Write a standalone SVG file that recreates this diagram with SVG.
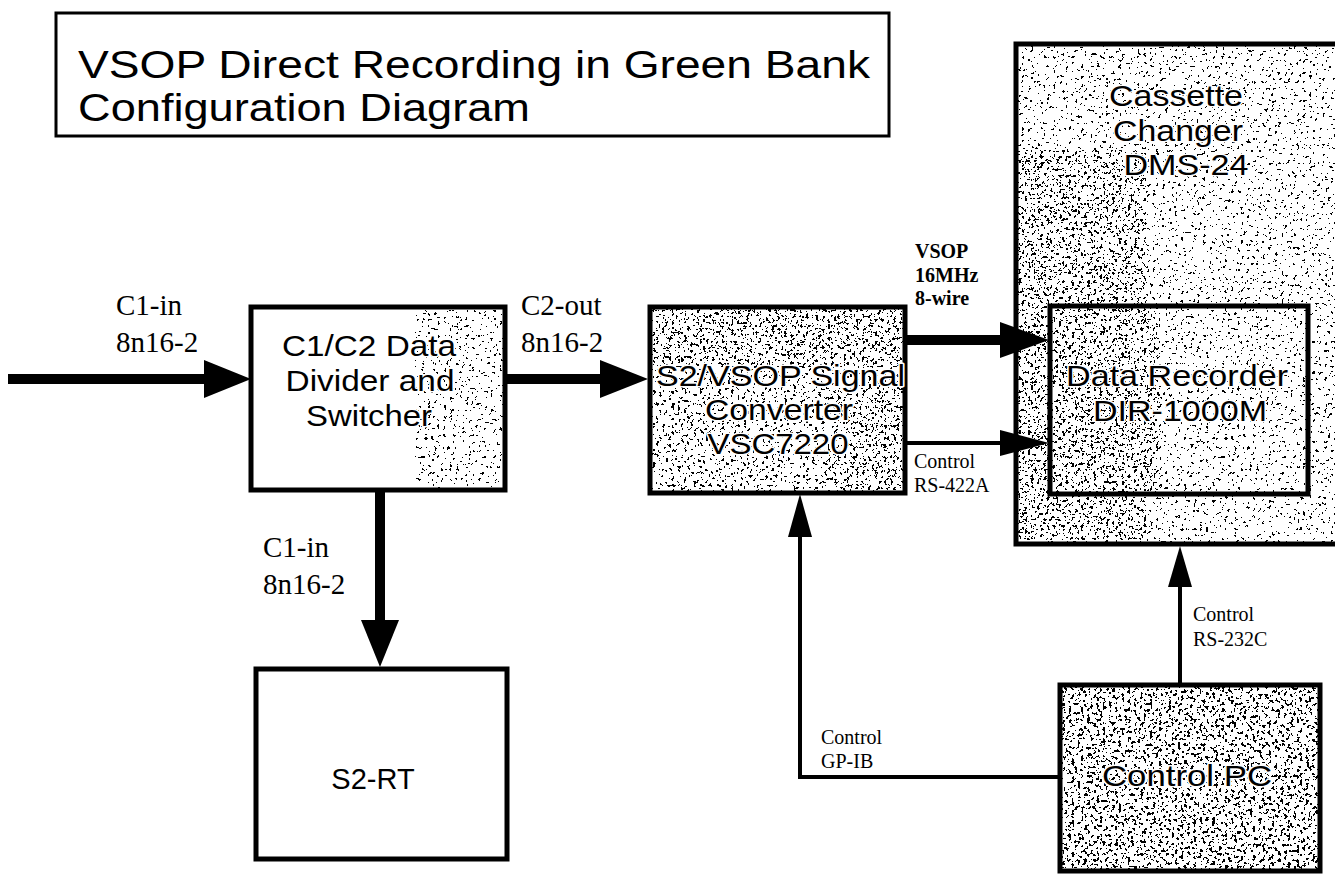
<svg xmlns="http://www.w3.org/2000/svg" width="1335" height="874" viewBox="0 0 1335 874">
<style>
.box{fill:none;stroke:#000;stroke-width:5}
.bg{fill:#fff}
.sans{font-family:"Liberation Sans",Arial,sans-serif;fill:#000}
.node{font-size:30px;text-anchor:middle}
.halo{paint-order:stroke;stroke:#fff;stroke-width:3px;stroke-linejoin:round}
.lbl{font-family:"Liberation Serif","Times New Roman",serif;font-size:29px;fill:#000}
.sm{font-family:"Liberation Serif","Times New Roman",serif;font-size:20px;fill:#000}
.thick{stroke:#000;stroke-width:10;fill:none}
.thin{stroke:#000;stroke-width:4;fill:none}
.head{fill:#000}
</style>
<defs>
<filter id="speckH" x="0" y="0" width="100%" height="100%" filterUnits="objectBoundingBox">
<feTurbulence type="fractalNoise" baseFrequency="0.32" numOctaves="2" seed="4" result="n"/>
<feColorMatrix in="n" type="matrix" values="0 0 0 0 0  0 0 0 0 0  0 0 0 0 0  1 0 0 0 0"/>
<feComponentTransfer><feFuncA type="discrete" tableValues="0 0 0 0 0 0 0 0 0 0 0 0 0 0 0 1 1 1 1 1 1 1 1 1 1"/></feComponentTransfer>
</filter>
<filter id="speckM" x="0" y="0" width="100%" height="100%" filterUnits="objectBoundingBox">
<feTurbulence type="fractalNoise" baseFrequency="0.32" numOctaves="2" seed="9" result="n"/>
<feColorMatrix in="n" type="matrix" values="0 0 0 0 0  0 0 0 0 0  0 0 0 0 0  1 0 0 0 0"/>
<feComponentTransfer><feFuncA type="discrete" tableValues="0 0 0 0 0 0 0 0 0 0 0 0 0 0 0 0 1 1 1 1 1 1 1 1 1"/></feComponentTransfer>
</filter>
<filter id="speckL" x="0" y="0" width="100%" height="100%" filterUnits="objectBoundingBox">
<feTurbulence type="fractalNoise" baseFrequency="0.32" numOctaves="2" seed="2" result="n"/>
<feColorMatrix in="n" type="matrix" values="0 0 0 0 0  0 0 0 0 0  0 0 0 0 0  1 0 0 0 0"/>
<feComponentTransfer><feFuncA type="discrete" tableValues="0 0 0 0 0 0 0 0 0 0 0 0 0 0 0 0 0 1 1 1 1 1 1 1 1"/></feComponentTransfer>
</filter>
</defs>

<g id="title">
<rect x="56" y="13" width="833" height="123" fill="#fff" stroke="#000" stroke-width="3"/>
<text class="sans" font-size="38" x="78" y="78" textLength="792" lengthAdjust="spacingAndGlyphs">VSOP Direct Recording in Green Bank</text>
<text class="sans" font-size="38" x="78" y="121" textLength="452" lengthAdjust="spacingAndGlyphs">Configuration Diagram</text>
</g>

<g id="cassette-changer">
<rect class="bg" x="1016" y="44" width="330" height="500"/>
<rect x="1016" y="44" width="330" height="500" fill="#000" filter="url(#speckL)"/>
<rect x="1016" y="150" width="130" height="390" fill="#000" filter="url(#speckM)"/>
<rect x="1016" y="44" width="110" height="140" fill="#000" filter="url(#speckL)"/>
<rect class="box" x="1016" y="44" width="330" height="500"/>
<text class="sans node halo" x="1176" y="106" textLength="134" lengthAdjust="spacingAndGlyphs">Cassette</text>
<text class="sans node halo" x="1178" y="141" textLength="130" lengthAdjust="spacingAndGlyphs">Changer</text>
<text class="sans node halo" x="1186" y="175" textLength="125" lengthAdjust="spacingAndGlyphs">DMS-24</text>
</g>

<g id="data-recorder">
<rect class="bg" x="1050" y="306" width="258" height="188"/>
<rect x="1050" y="306" width="258" height="188" fill="#000" filter="url(#speckL)"/>
<rect x="1050" y="306" width="110" height="188" fill="#000" filter="url(#speckM)"/>
<rect class="box" x="1050" y="306" width="258" height="188"/>
<text class="sans node halo" x="1177" y="386" textLength="222" lengthAdjust="spacingAndGlyphs">Data Recorder</text>
<text class="sans node halo" x="1180" y="421" textLength="174" lengthAdjust="spacingAndGlyphs">DIR-1000M</text>
</g>

<g id="divider">
<rect class="bg" x="251" y="307" width="254" height="183"/>
<rect x="415" y="310" width="88" height="178" fill="#000" filter="url(#speckL)"/>
<rect class="box" x="251" y="307" width="254" height="183"/>
<text class="sans node halo" x="369" y="356" textLength="174" lengthAdjust="spacingAndGlyphs">C1/C2 Data</text>
<text class="sans node halo" x="370" y="391" textLength="169" lengthAdjust="spacingAndGlyphs">Divider and</text>
<text class="sans node halo" x="369" y="426" textLength="126" lengthAdjust="spacingAndGlyphs">Switcher</text>
</g>

<g id="converter">
<rect class="bg" x="650" y="307" width="255" height="186"/>
<rect x="650" y="307" width="255" height="186" fill="#000" filter="url(#speckM)"/>
<rect x="650" y="307" width="255" height="60" fill="#000" filter="url(#speckL)"/>
<rect x="830" y="380" width="75" height="110" fill="#000" filter="url(#speckL)"/>
<rect class="box" x="650" y="307" width="255" height="186"/>
<text class="sans halo" font-size="30" x="656" y="386" textLength="249" lengthAdjust="spacingAndGlyphs">S2/VSOP Signal</text>
<text class="sans node halo" x="779" y="420" textLength="148" lengthAdjust="spacingAndGlyphs">Converter</text>
<text class="sans node halo" x="778" y="454" textLength="141" lengthAdjust="spacingAndGlyphs">VSC7220</text>
</g>

<g id="s2rt">
<rect class="box" x="256" y="669" width="251" height="190" fill="#fff"/>
<text class="sans" x="373" y="789" font-size="29" text-anchor="middle">S2-RT</text>
</g>

<g id="control-pc">
<rect class="bg" x="1060" y="685" width="260" height="186"/>
<rect x="1060" y="685" width="260" height="186" fill="#000" filter="url(#speckH)"/>
<rect class="box" x="1060" y="685" width="260" height="186"/>
<text class="sans node halo" font-size="32" x="1187" y="786" textLength="170" lengthAdjust="spacingAndGlyphs">Control PC</text>
</g>

<g id="connectors">
<line class="thick" x1="8" y1="379" x2="210" y2="379"/>
<polygon class="head" points="204,360 251,379 204,398"/>
<line class="thick" x1="505" y1="379" x2="605" y2="379"/>
<polygon class="head" points="600,360 648,379 600,398"/>
<line class="thick" x1="380" y1="490" x2="380" y2="625"/>
<polygon class="head" points="361,620 380,667 399,620"/>
<line class="thick" x1="905" y1="340" x2="1005" y2="340"/>
<polygon class="head" points="1000,322 1049,340 1000,358"/>
<line class="thin" x1="905" y1="443" x2="1005" y2="443"/>
<polygon class="head" points="1000,430 1049,443 1000,456"/>
<polyline class="thin" points="1060,777 800,777 800,530"/>
<polygon class="head" points="788,537 800,494 812,537"/>
<line class="thin" x1="1180" y1="685" x2="1180" y2="580"/>
<polygon class="head" points="1168,587 1180,546 1192,587"/>
</g>

<g id="labels">
<text class="lbl"><tspan x="116" y="315">C1-in</tspan><tspan x="116" y="352">8n16-2</tspan></text>
<text class="lbl"><tspan x="521" y="315">C2-out</tspan><tspan x="521" y="352">8n16-2</tspan></text>
<text class="lbl"><tspan x="263" y="557">C1-in</tspan><tspan x="263" y="594">8n16-2</tspan></text>
<text class="sm" font-weight="bold"><tspan x="915" y="258">VSOP</tspan><tspan x="915" y="282">16MHz</tspan><tspan x="915" y="305">8-wire</tspan></text>
<text class="sm"><tspan x="914" y="468">Control</tspan><tspan x="914" y="492">RS-422A</tspan></text>
<text class="sm"><tspan x="1193" y="621">Control</tspan><tspan x="1193" y="646">RS-232C</tspan></text>
<text class="sm"><tspan x="821" y="744">Control</tspan><tspan x="821" y="768">GP-IB</tspan></text>
</g>
</svg>
